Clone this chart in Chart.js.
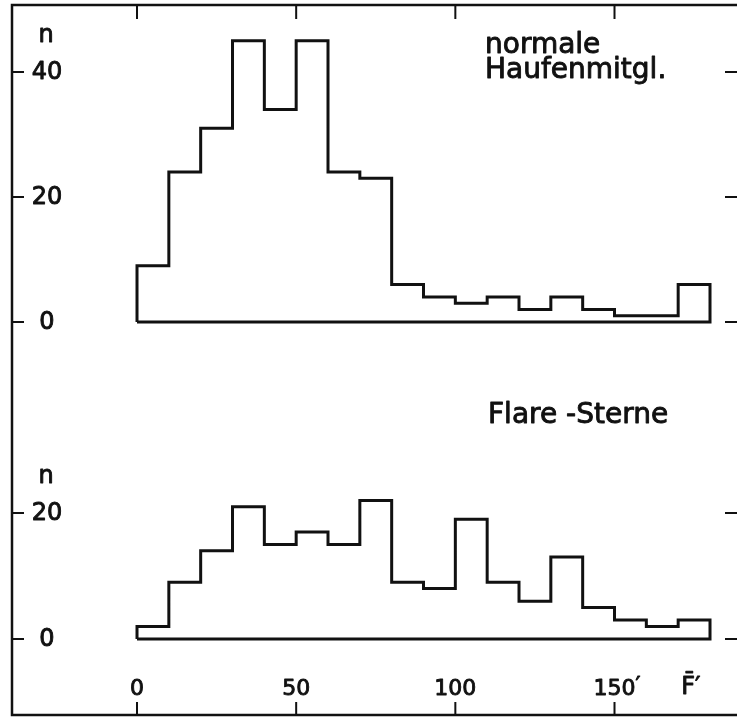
<!DOCTYPE html>
<html>
<head>
<meta charset="utf-8">
<script src="https://cdn.jsdelivr.net/npm/chart.js@4.4.1/dist/chart.umd.min.js"></script>
<style>
  html, body { margin: 0; padding: 0; background: #fff; }
  #wrap { width: 737px; height: 717px; }
</style>
</head>
<body>
<div id="wrap"><canvas id="myChart" width="737" height="717"></canvas></div>
<script>
// bin edges of F' (width 10)
const binEdges = [0, 10, 20, 30, 40, 50, 60, 70, 80, 90, 100, 110, 120, 130, 140, 150, 160, 170, 180];
// normale Haufenmitglieder
const clusterCounts = [9, 24, 31, 45, 34, 45, 24, 23, 6, 4, 3, 4, 2, 4, 2, 1, 1, 6];
// Flare-Sterne
const flareCounts = [2, 9, 14, 21, 15, 17, 15, 22, 9, 8, 19, 9, 6, 13, 5, 3, 2, 3];

const xTicks = [0, 50, 100, 150];
const xTickLabels = ['0', '50', '100', '150'];
const topYTicks = [0, 20, 40];
const bottomYTicks = [0, 20];

const inkColor = '#111';
const fontFamily = '"DejaVu Sans", sans-serif';

// closed histogram outline: steps plus the base line
function outline(counts) {
  const last = counts.length;
  const pts = [{ x: binEdges[0], y: 0 }];
  counts.forEach((c, i) => pts.push({ x: binEdges[i], y: c }));
  pts.push({ x: binEdges[last], y: counts[last - 1] });
  pts.push({ x: binEdges[last], y: 0 });
  pts.push({ x: binEdges[0], y: 0 });
  return pts;
}

// text a bit heavier, like the typewriter lettering
function ink(ctx, txt, x, y) {
  ctx.fillText(txt, x, y);
  ctx.strokeText(txt, x, y);
}

const framePlugin = {
  id: 'frame',
  afterDraw(chart) {
    const { ctx, chartArea: a, scales } = chart;
    const x = scales.x;
    ctx.save();
    ctx.strokeStyle = inkColor;
    ctx.fillStyle = inkColor;
    ctx.lineWidth = 2.5;

    ctx.beginPath();
    ctx.moveTo(a.right, a.top);
    ctx.lineTo(a.left, a.top);
    ctx.lineTo(a.left, a.bottom);
    ctx.lineTo(a.right, a.bottom);
    ctx.stroke();

    ctx.lineWidth = 2;
    ctx.beginPath();
    xTicks.forEach(v => {
      const px = x.getPixelForValue(v);
      ctx.moveTo(px, a.top);
      ctx.lineTo(px, a.top + 14);
      ctx.moveTo(px, a.bottom);
      ctx.lineTo(px, a.bottom - 13);
    });
    [[scales.yTop, topYTicks], [scales.yBot, bottomYTicks]].forEach(([s, ticks]) => {
      ticks.forEach(v => {
        const py = s.getPixelForValue(v);
        ctx.moveTo(a.left, py);
        ctx.lineTo(a.left + 12, py);
        ctx.moveTo(a.right - 12, py);
        ctx.lineTo(a.right, py);
      });
    });
    ctx.stroke();

    ctx.lineWidth = 0.9;
    ctx.lineJoin = 'round';

    // y tick labels and "n"
    ctx.font = '24px ' + fontFamily;
    ctx.textAlign = 'center';
    ctx.textBaseline = 'middle';
    [[scales.yTop, topYTicks], [scales.yBot, bottomYTicks]].forEach(([s, ticks]) => {
      ticks.forEach(v => ink(ctx, String(v), a.left + 35, s.getPixelForValue(v) + 1));
      const topPx = s.getPixelForValue(ticks[ticks.length - 1]);
      ink(ctx, 'n', a.left + 34, topPx - 36);
    });

    // x tick labels
    ctx.font = '22px ' + fontFamily;
    xTickLabels.forEach((lbl, i) => {
      ink(ctx, lbl, x.getPixelForValue(xTicks[i]), a.bottom - 26);
    });
    const w150 = ctx.measureText(xTickLabels[3]).width;
    ctx.textAlign = 'left';
    ink(ctx, '\u2032', x.getPixelForValue(xTicks[3]) + w150 / 2, a.bottom - 29);
    ctx.textAlign = 'center';
    ctx.font = '24px ' + fontFamily;
    ink(ctx, 'F\u0304\u2032', x.getPixelForValue(174), a.bottom - 27);

    // panel titles
    ctx.font = '28px ' + fontFamily;
    ctx.textAlign = 'left';
    ctx.textBaseline = 'alphabetic';
    ink(ctx, 'normale', 485, 53);
    ink(ctx, 'Haufenmitgl.', 485, 78);
    ink(ctx, 'Flare -Sterne', 488, 423);
    ctx.restore();
  }
};

const lineStyle = {
  stepped: true,
  borderColor: inkColor,
  borderWidth: 3,
  borderJoinStyle: 'miter',
  pointRadius: 0,
  fill: false
};

new Chart(document.getElementById('myChart'), {
  type: 'line',
  data: {
    datasets: [
      { label: 'normale Haufenmitgl.', data: outline(clusterCounts), yAxisID: 'yTop', ...lineStyle },
      { label: 'Flare-Sterne', data: outline(flareCounts), yAxisID: 'yBot', ...lineStyle }
    ]
  },
  options: {
    responsive: false,
    animation: false,
    devicePixelRatio: 1,
    layout: { padding: { left: 12, top: 5, right: 0, bottom: 2 } },
    scales: {
      x: { type: 'linear', min: -39.27, max: 188.48, display: false },
      yTop: { type: 'linear', min: -62.88, max: 50.72, display: false },
      yBot: { type: 'linear', min: -12.06, max: 100.63, display: false }
    },
    plugins: {
      legend: { display: false },
      tooltip: { enabled: false }
    }
  },
  plugins: [framePlugin]
});
</script>
</body>
</html>
